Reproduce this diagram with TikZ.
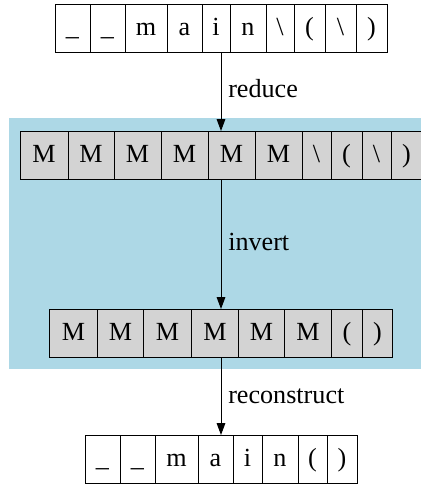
\documentclass[tikz,border=0pt]{standalone}
\usepackage{fontspec}
\setmainfont{Liberation Serif}
\usetikzlibrary{arrows.meta}
\definecolor{clusterblue}{HTML}{ADD8E6}
\definecolor{cellgray}{HTML}{D3D3D3}

\begin{document}
\begin{tikzpicture}[x=0.75pt,y=-0.75pt,font=\fontsize{19.6}{23}\selectfont]
      \tikzstyle{arrow} = [line width=0.75pt,-{Triangle[length=9pt,width=6.5pt]}]
      \tikzstyle{record} = [rectangle, minimum height=36pt, inner sep=0pt, outer sep=0pt]
      \tikzstyle{cell} = [rectangle, draw=black, line width=0.75pt, minimum height=36pt, inner sep=0pt, text height=14pt, text depth=3.5pt]
      \tikzstyle{edgetext} = [anchor=base west, inner sep=0pt]
      \clip (0,0) rectangle (421,486);
      % cluster behind the two middle records
      \fill[clusterblue] (9,118) rectangle (440,369);
      % records, one node each for the connectors
      \node[record, minimum width=249pt] (source) at (221,28) {};
      \node[record, minimum width=301.5pt] (reduced) at (221,155) {};
      \node[record, minimum width=257.25pt] (inverted) at (221,333) {};
      \node[record, minimum width=204pt] (result) at (221,459) {};
      % cells
      \foreach \t/\a/\b [count=\i] in {\_/55/90, \_/90/125, m/125/167, a/167/202, i/202/230, n/230/266, \textbackslash/266/294, {(}/294/325, \textbackslash/325/356, {)}/356/387}
        \node[cell, minimum width={(\b-\a)*0.75pt}] (source-\i) at ({(\a+\b)/2},28) {\t};
      \foreach \t/\a/\b [count=\i] in {M/20/68, M/68/114, M/114/161, M/161/208, M/208/255, M/255/302, \textbackslash/302/331, {(}/331/362, \textbackslash/362/391, {)}/391/422}
        \node[cell, fill=cellgray, minimum width={(\b-\a)*0.75pt}] (reduced-\i) at ({(\a+\b)/2},155) {\t};
      \foreach \t/\a/\b [count=\i] in {M/49.5/97.5, M/97.5/143.5, M/143.5/191.5, M/191.5/238.5, M/238.5/284.5, M/284.5/331.5, {(}/331.5/362.5, {)}/362.5/392.5}
        \node[cell, fill=cellgray, minimum width={(\b-\a)*0.75pt}] (inverted-\i) at ({(\a+\b)/2},333) {\t};
      \foreach \t/\a/\b [count=\i] in {\_/85/120, \_/120/155, m/155/198, a/198/233, i/233/262, n/262/298, {(}/298/327, {)}/327/357}
        \node[cell, minimum width={(\b-\a)*0.75pt}] (result-\i) at ({(\a+\b)/2},459) {\t};
      % edge labels
      \node[edgetext] (reduce-text) at (228,97) {reduce};
      \node[edgetext] (invert-text) at (228,250) {invert};
      \node[edgetext] (reconstruct-text) at (228,403) {reconstruct};
      \draw [arrow] (source) -- (reduced);
      \draw [arrow] (reduced) -- (inverted);
      \draw [arrow] (inverted) -- (result);
\end{tikzpicture}
\end{document}
